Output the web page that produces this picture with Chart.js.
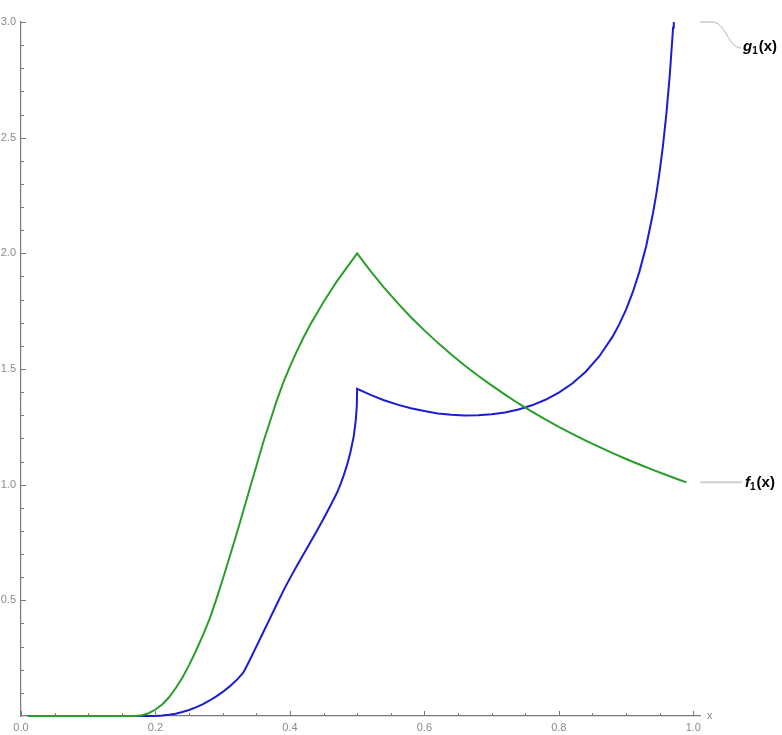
<!DOCTYPE html>
<html>
<head>
<meta charset="utf-8">
<script src="https://cdn.jsdelivr.net/npm/chart.js@4.4.1/dist/chart.umd.min.js"></script>
<style>
  html, body { margin: 0; padding: 0; background: #fff; }
  #wrap { width: 782px; height: 735px; }
</style>
</head>
<body>
<div id="wrap"><canvas id="chart"></canvas></div>
<script>
// values
const fX = [0.01, 0.05, 0.10, 0.15, 0.17, 0.18, 0.19, 0.20, 0.21, 0.22, 0.23, 0.24, 0.25, 0.26, 0.27, 0.28, 0.29,
            0.30, 0.31, 0.32, 0.33, 0.34, 0.35, 0.36, 0.37, 0.38, 0.39, 0.40, 0.41, 0.42, 0.43, 0.44, 0.45, 0.46,
            0.47, 0.48, 0.49, 0.50, 0.52, 0.54, 0.56, 0.58, 0.60, 0.62, 0.64, 0.66, 0.68, 0.70, 0.72, 0.74, 0.76,
            0.78, 0.80, 0.82, 0.84, 0.86, 0.88, 0.90, 0.92, 0.94, 0.96, 0.98, 0.99];
const fY = [0, 0, 0, 0, 0, 0.003, 0.012, 0.028, 0.05, 0.08, 0.12, 0.165, 0.22, 0.28, 0.345, 0.415, 0.50,
            0.59, 0.685, 0.78, 0.88, 0.98, 1.08, 1.18, 1.27, 1.36, 1.44, 1.51, 1.575, 1.635, 1.69, 1.74, 1.79, 1.835,
            1.88, 1.92, 1.96, 2.00, 1.923, 1.852, 1.786, 1.724, 1.667, 1.613, 1.563, 1.515, 1.471, 1.429, 1.389, 1.351, 1.316,
            1.282, 1.25, 1.22, 1.19, 1.163, 1.136, 1.111, 1.087, 1.064, 1.042, 1.02, 1.01];

const gX = [0.01, 0.05, 0.10, 0.15, 0.20, 0.21, 0.22, 0.23, 0.24, 0.25, 0.26, 0.27, 0.28, 0.29, 0.30, 0.31, 0.32,
            0.33, 0.333, 0.34, 0.35, 0.36, 0.37, 0.38, 0.39, 0.40, 0.41, 0.42, 0.43, 0.44, 0.45, 0.46, 0.47, 0.475,
            0.48, 0.485, 0.49, 0.495, 0.498, 0.4995, 0.50, 0.52, 0.54, 0.56, 0.58, 0.60, 0.62, 0.64, 0.66, 0.68,
            0.70, 0.72, 0.74, 0.76, 0.78, 0.80, 0.82, 0.84, 0.86, 0.88, 0.89, 0.90, 0.91, 0.92, 0.93, 0.94,
            0.945, 0.95, 0.955, 0.96, 0.965, 0.97, 0.971];
const gY = [0, 0, 0, 0, 0, 0.002, 0.005, 0.01, 0.017, 0.026, 0.037, 0.05, 0.066, 0.084, 0.104, 0.127, 0.153,
            0.185, 0.20, 0.24, 0.30, 0.36, 0.42, 0.48, 0.54, 0.595, 0.647, 0.698, 0.749, 0.80, 0.853, 0.908, 0.965, 1.0,
            1.04, 1.085, 1.14, 1.21, 1.28, 1.34, 1.414, 1.388, 1.365, 1.346, 1.330, 1.318, 1.308, 1.302, 1.299, 1.300,
            1.304, 1.312, 1.325, 1.343, 1.367, 1.398, 1.437, 1.488, 1.554, 1.640, 1.694, 1.757, 1.832, 1.922, 2.032, 2.172,
            2.256, 2.354, 2.468, 2.604, 2.769, 2.976, 3.02];

const xTickStep = 0.2;
const yTickStep = 0.5;
const xMinorStep = 0.05;
const yMinorStep = 0.1;

const toPoints = (xs, ys) => xs.map((x, i) => ({ x, y: ys[i] }));

const axisColor = '#7a7a7a';
const labelColor = '#8a8a8a';

const decor = {
  id: 'decor',
  afterDraw(chart) {
    const { ctx, chartArea: a, scales: { x, y } } = chart;
    ctx.save();
    ctx.strokeStyle = axisColor;
    ctx.lineWidth = 1;
    ctx.beginPath();
    // inward ticks on the x axis
    for (let i = 0; i * xMinorStep <= 1.0001; i++) {
      const px = Math.round(x.getPixelForValue(i * xMinorStep)) + 0.5;
      const len = i % 4 === 0 ? 5 : 3;
      ctx.moveTo(px, a.bottom);
      ctx.lineTo(px, a.bottom - len);
    }
    // inward ticks on the y axis
    for (let i = 1; i * yMinorStep <= 3.0001; i++) {
      const py = Math.round(y.getPixelForValue(i * yMinorStep)) + 0.5;
      const len = i % 5 === 0 ? 5 : 3;
      ctx.moveTo(a.left, py);
      ctx.lineTo(a.left + len, py);
    }
    ctx.stroke();

    // axis name
    ctx.fillStyle = labelColor;
    ctx.font = '11px "Liberation Sans", Arial, sans-serif';
    ctx.textBaseline = 'middle';
    ctx.textAlign = 'left';
    ctx.fillText('x', a.right + 7, a.bottom);

    // callouts
    const gy = y.getPixelForValue(3.0);
    const fy = y.getPixelForValue(fY[fY.length - 1]);
    const sx = a.right;
    ctx.strokeStyle = '#b0b0b0';
    ctx.lineWidth = 1;
    ctx.beginPath();
    ctx.moveTo(sx, gy);
    ctx.lineTo(sx + 12, gy);
    ctx.bezierCurveTo(sx + 26, gy, sx + 28, gy + 26, sx + 41, gy + 26);
    ctx.stroke();
    ctx.strokeStyle = '#cfcfcf';
    ctx.lineWidth = 2;
    ctx.beginPath();
    ctx.moveTo(sx, fy);
    ctx.lineTo(sx + 42, fy);
    ctx.stroke();

    const drawLabel = (name, lx, ly) => {
      ctx.fillStyle = '#000';
      ctx.textBaseline = 'alphabetic';
      ctx.font = 'italic bold 15px "Liberation Sans", Arial, sans-serif';
      ctx.fillText(name, lx, ly + 5);
      let w = ctx.measureText(name).width;
      ctx.font = 'bold 10px "Liberation Sans", Arial, sans-serif';
      ctx.fillText('1', lx + w, ly + 8);
      w += ctx.measureText('1').width + 1;
      ctx.font = 'bold 15px "Liberation Sans", Arial, sans-serif';
      ctx.fillText('(x)', lx + w, ly + 5);
    };
    drawLabel('g', sx + 43, gy + 24);
    drawLabel('f', sx + 45, fy);
    ctx.restore();
  }
};

const lineStyle = { borderWidth: 2, pointRadius: 0, tension: 0, fill: false, clip: { left: 5, top: 0, right: 5, bottom: 5 } };

new Chart(document.getElementById('chart'), {
  type: 'line',
  data: {
    datasets: [
      { label: 'f1(x)', data: toPoints(fX, fY), borderColor: '#2a9e2a', ...lineStyle },
      { label: 'g1(x)', data: toPoints(gX, gY), borderColor: '#1c1cd2', ...lineStyle }
    ]
  },
  options: {
    responsive: true,
    maintainAspectRatio: false,
    animation: false,
    layout: { padding: { left: 0, top: 22, right: 82, bottom: 0 } },
    plugins: { legend: { display: false }, tooltip: { enabled: false } },
    scales: {
      x: {
        type: 'linear',
        min: 0,
        max: 1.01,
        afterFit: s => { s.height = 19; },
        grid: { display: false, drawTicks: false },
        border: { display: true, color: axisColor, width: 1.2 },
        ticks: {
          stepSize: xTickStep,
          includeBounds: false,
          padding: 5,
          color: labelColor,
          font: { size: 11, family: '"Liberation Sans", Arial, sans-serif' },
          maxRotation: 0,
          callback: v => v.toFixed(1)
        }
      },
      y: {
        type: 'linear',
        min: 0,
        max: 3,
        afterFit: s => { s.width = 21; },
        grid: { display: false, drawTicks: false },
        border: { display: true, color: axisColor, width: 1.2 },
        ticks: {
          stepSize: yTickStep,
          padding: 5,
          color: labelColor,
          font: { size: 11, family: '"Liberation Sans", Arial, sans-serif' },
          callback: v => (v === 0 ? null : v.toFixed(1))
        }
      }
    }
  },
  plugins: [decor]
});
</script>
</body>
</html>
